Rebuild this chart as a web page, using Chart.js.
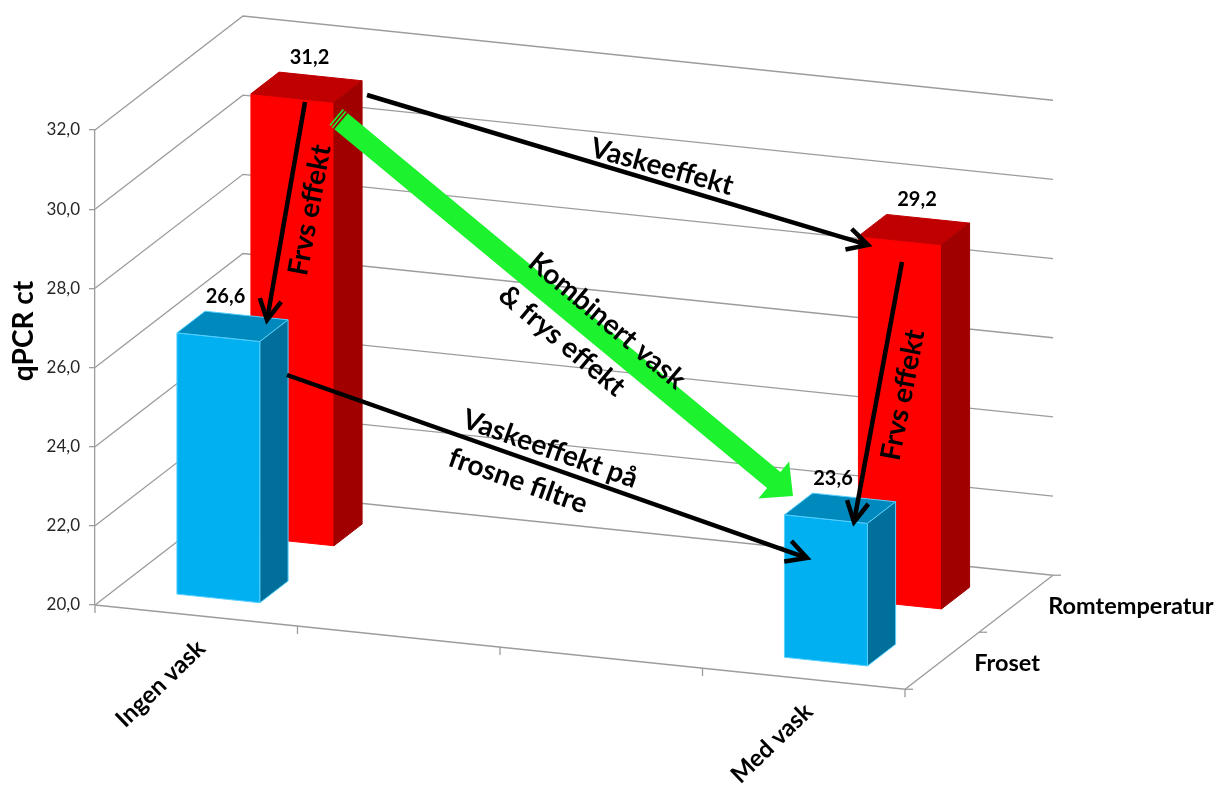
<!DOCTYPE html>
<html>
<head>
<meta charset="utf-8">
<script src="https://cdn.jsdelivr.net/npm/chart.js@4.4.1/dist/chart.umd.min.js"></script>
<style>
  html, body { margin: 0; padding: 0; background: #ffffff; overflow: hidden; }
  canvas { display: block; }
</style>
</head>
<body>
<canvas id="chart" width="1223" height="785"></canvas>
<script>
// ---- data ----
const categories = ['Ingen vask', '', '', 'Med vask'];
const seriesNames = ['Froset', 'Romtemperatur'];
const froset = [26.6, null, null, 23.6];
const romtemperatur = [31.2, null, null, 29.2];
const yTicks = [20, 22, 24, 26, 28, 30, 32];
const axisTitle = 'qPCR ct';

// ---- look of the oblique 3D frame ----
const GEOM = { depthX: 148, depthY: 114, slope: 0.104, barDepth: 0.19 };
const rowDepth = { Froset: 0.245, Romtemperatur: 0.745 };
const palette = {
  Froset:        { front: '#00B0F0', top: '#0089BC', side: '#00709A', edge: '#55CFFF', labelDx: -7 },
  Romtemperatur: { front: '#FF0000', top: '#C00000', side: '#A00000', edge: null,      labelDx: 3 }
};
const GRID = '#9c9c9c';
const FONT = 'Lato, "Open Sans", sans-serif';
const fmt = v => v.toFixed(1).replace('.', ',');

// callouts drawn over the chart
const arrows = [
  { from: [305, 102], to: [267, 320] },
  { from: [367, 95],  to: [868, 245] },
  { from: [902, 262], to: [854, 522] },
  { from: [287, 375], to: [807, 558] }
];
const bigArrow = { from: [336, 117], to: [793, 496], shaft: 21, headLen: 25, headHalf: 24,
                   stripes: [[0, 1.6], [3.2, 4.8]], bodyStart: 6.6, color: '#1CF22E' };
const notes = [
  { text: 'Frvs effekt',    x: 310, y: 210, angle: -79.5 },
  { text: 'Frvs effekt',    x: 903, y: 395, angle: -79 },
  { text: 'Vaskeeffekt',    x: 662, y: 167, angle: 15.5 },
  { text: 'Kombinert vask', x: 607, y: 321, angle: 40 },
  { text: '& frys effekt',  x: 562, y: 341, angle: 40 },
  { text: 'Vaskeeffekt på', x: 550, y: 449, angle: 19.5 },
  { text: 'frosne filtre',  x: 518, y: 481, angle: 19.5 }
];

// maps a point of the flat plot (x, y) at depth d (0 = front, 1 = back) into the oblique view
function projector(area) {
  return (x, y, d) => ({
    x: x + d * GEOM.depthX,
    y: y + (x - area.left) * GEOM.slope - d * GEOM.depthY
  });
}

function poly(ctx, pts) {
  ctx.beginPath();
  ctx.moveTo(pts[0].x, pts[0].y);
  for (let i = 1; i < pts.length; i++) ctx.lineTo(pts[i].x, pts[i].y);
}

function drawWalls(chart) {
  const { ctx, chartArea: a, scales: { x, y } } = chart;
  const P = projector(a);
  ctx.save();
  ctx.strokeStyle = GRID;
  ctx.lineWidth = 1.3;
  // gridlines on the side wall and back wall
  yTicks.forEach(v => {
    const py = y.getPixelForValue(v);
    poly(ctx, [P(a.left, py, 0), P(a.left, py, 1), P(a.right, py, 1)]);
    ctx.stroke();
  });
  // floor front and right edges
  poly(ctx, [P(a.left, a.bottom, 0), P(a.right, a.bottom, 0), P(a.right, a.bottom, 1)]);
  ctx.stroke();
  // category boundary ticks
  const half = (x.getPixelForValue(1) - x.getPixelForValue(0)) / 2;
  const bounds = categories.map((_, i) => x.getPixelForValue(i) - half);
  bounds.push(x.getPixelForValue(categories.length - 1) + half);
  bounds.forEach(bx => {
    const p = P(bx, a.bottom, 0);
    ctx.beginPath(); ctx.moveTo(p.x, p.y); ctx.lineTo(p.x, p.y + 8); ctx.stroke();
  });
  // series axis ticks
  [0, 0.5, 1].forEach(d => {
    const p = P(a.right, a.bottom, d);
    ctx.beginPath(); ctx.moveTo(p.x, p.y); ctx.lineTo(p.x + 8, p.y); ctx.stroke();
  });
  ctx.restore();
}

function drawBars(chart) {
  const { ctx, chartArea: a, scales: { y: yScale } } = chart;
  const P = projector(a);
  const base = yScale.getPixelForValue(yScale.min);
  const order = [1, 0]; // back row first
  order.forEach(di => {
    const name = seriesNames[di];
    const col = palette[name];
    const meta = chart.getDatasetMeta(di);
    const d0 = rowDepth[name] - GEOM.barDepth / 2;
    const d1 = rowDepth[name] + GEOM.barDepth / 2;
    meta.data.forEach((el, i) => {
      const v = chart.data.datasets[di].data[i];
      if (v === null || v === undefined) return;
      const { x, y, width } = el.getProps(['x', 'y', 'width'], true);
      const x0 = x - width / 2, x1 = x + width / 2;
      const faces = [
        [col.front, [P(x0, y, d0), P(x1, y, d0), P(x1, base, d0), P(x0, base, d0)]],
        [col.top,   [P(x0, y, d0), P(x1, y, d0), P(x1, y, d1), P(x0, y, d1)]],
        [col.side,  [P(x1, y, d0), P(x1, y, d1), P(x1, base, d1), P(x1, base, d0)]]
      ];
      ctx.save();
      faces.forEach(([fill, pts]) => {
        poly(ctx, pts); ctx.closePath();
        ctx.fillStyle = fill; ctx.fill();
        ctx.lineWidth = 1;
        ctx.strokeStyle = col.edge || fill;
        ctx.stroke();
      });
      ctx.restore();
      const c = P(x, y, rowDepth[name]);
      ctx.save();
      ctx.font = 'bold 20px ' + FONT;
      ctx.fillStyle = '#000';
      ctx.textAlign = 'center';
      ctx.textBaseline = 'middle';
      ctx.fillText(fmt(v), c.x + col.labelDx, c.y - 30);
      ctx.restore();
    });
  });
}

function drawAxisText(chart) {
  const { ctx, chartArea: a, scales: { x } } = chart;
  const P = projector(a);
  ctx.save();
  ctx.fillStyle = '#000';
  // category labels along the front edge
  ctx.font = 'bold 24px ' + FONT;
  ctx.textAlign = 'right';
  ctx.textBaseline = 'middle';
  categories.forEach((lab, i) => {
    if (!lab) return;
    const p = P(x.getPixelForValue(i), a.bottom, 0);
    ctx.save();
    ctx.translate(p.x + 5, p.y + 29);
    ctx.rotate(-44 * Math.PI / 180);
    ctx.fillText(lab, 0, 0);
    ctx.restore();
  });
  // series labels along the depth edge
  ctx.font = 'bold 23.5px ' + FONT;
  ctx.textAlign = 'left';
  seriesNames.forEach(name => {
    const p = P(a.right, a.bottom, rowDepth[name]);
    ctx.fillText(name, p.x + 33, p.y + 2);
  });
  // value axis title
  ctx.font = 'bold 28px ' + FONT;
  ctx.textAlign = 'center';
  ctx.save();
  ctx.translate(24, 331);
  ctx.rotate(-Math.PI / 2);
  ctx.fillText(axisTitle, 0, 0);
  ctx.restore();
  ctx.restore();
}

function drawBigArrow(ctx, g) {
  const dx = g.to[0] - g.from[0], dy = g.to[1] - g.from[1];
  const len = Math.hypot(dx, dy);
  const hw = g.shaft / 2;
  ctx.save();
  ctx.translate(g.from[0], g.from[1]);
  ctx.rotate(Math.atan2(dy, dx));
  ctx.fillStyle = g.color;
  g.stripes.forEach(([s, e]) => ctx.fillRect(s, -hw, e - s, 2 * hw));
  ctx.beginPath();
  ctx.moveTo(g.bodyStart, -hw);
  ctx.lineTo(len - g.headLen, -hw);
  ctx.lineTo(len - g.headLen, -g.headHalf);
  ctx.lineTo(len, 0);
  ctx.lineTo(len - g.headLen, g.headHalf);
  ctx.lineTo(len - g.headLen, hw);
  ctx.lineTo(g.bodyStart, hw);
  ctx.closePath();
  ctx.fill();
  ctx.restore();
}

function drawArrow(ctx, ar) {
  const [sx, sy] = ar.from, [tx, ty] = ar.to;
  const ang = Math.atan2(ty - sy, tx - sx);
  const arm = 23, spread = 28 * Math.PI / 180;
  ctx.save();
  ctx.strokeStyle = '#000';
  ctx.lineWidth = 4.5;
  ctx.lineCap = 'butt';
  ctx.lineJoin = 'miter';
  ctx.beginPath();
  ctx.moveTo(sx, sy);
  ctx.lineTo(tx - Math.cos(ang) * 2, ty - Math.sin(ang) * 2);
  ctx.stroke();
  ctx.beginPath();
  ctx.moveTo(tx - arm * Math.cos(ang - spread), ty - arm * Math.sin(ang - spread));
  ctx.lineTo(tx, ty);
  ctx.lineTo(tx - arm * Math.cos(ang + spread), ty - arm * Math.sin(ang + spread));
  ctx.stroke();
  ctx.restore();
}

function drawNotes(chart) {
  const ctx = chart.ctx;
  drawBigArrow(ctx, bigArrow);
  arrows.forEach(ar => drawArrow(ctx, ar));
  ctx.save();
  ctx.fillStyle = '#000';
  ctx.font = 'bold 28px ' + FONT;
  ctx.textAlign = 'center';
  ctx.textBaseline = 'middle';
  notes.forEach(n => {
    ctx.save();
    ctx.translate(n.x, n.y);
    ctx.rotate(n.angle * Math.PI / 180);
    ctx.fillText(n.text, 0, 0);
    ctx.restore();
  });
  ctx.restore();
}

const oblique3d = {
  id: 'oblique3d',
  beforeDatasetsDraw(chart) { drawWalls(chart); },
  afterDatasetsDraw(chart) {
    drawBars(chart);
    drawAxisText(chart);
    drawNotes(chart);
  }
};

Chart.defaults.font.family = FONT;

const flat = { backgroundColor: 'rgba(0,0,0,0)', borderColor: 'rgba(0,0,0,0)', borderWidth: 0 };

new Chart(document.getElementById('chart'), {
  type: 'bar',
  data: {
    labels: categories,
    datasets: [
      { label: seriesNames[0], data: froset, ...flat },
      { label: seriesNames[1], data: romtemperatur, ...flat }
    ]
  },
  options: {
    responsive: false,
    animation: false,
    events: [],
    layout: { padding: { left: 0, top: 130, right: 318, bottom: 180 } },
    datasets: {
      bar: { grouped: false, categoryPercentage: 1, barPercentage: 0.41 }
    },
    plugins: { legend: { display: false }, tooltip: { enabled: false }, colors: { enabled: false } },
    scales: {
      x: { display: false },
      y: {
        min: 20, max: 32,
        afterFit(scale) { scale.width = 95; },
        afterBuildTicks(scale) { scale.ticks = yTicks.map(v => ({ value: v })); },
        ticks: { callback: v => fmt(v), font: { size: 17 }, color: '#262626', padding: 9 },
        grid: { drawOnChartArea: false, drawTicks: true, tickLength: 6, color: GRID, lineWidth: 1.3 },
        border: { display: true, color: GRID, width: 1.3 }
      }
    }
  },
  plugins: [oblique3d]
});
</script>
</body>
</html>
